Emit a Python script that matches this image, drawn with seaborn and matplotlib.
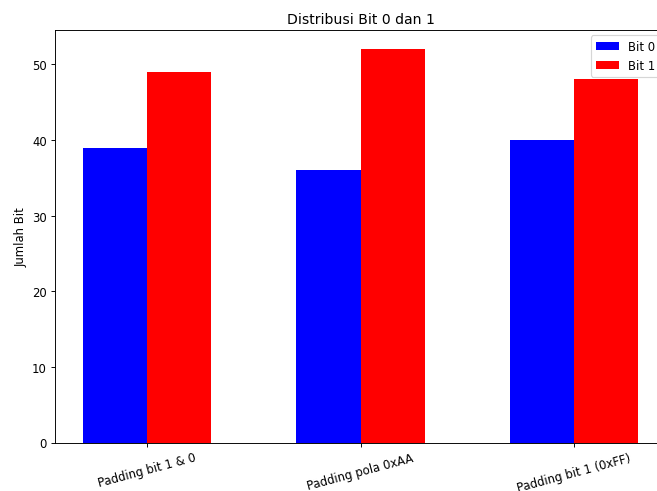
import pandas as pd
import numpy as np
import matplotlib
matplotlib.use('Agg')
import matplotlib.pyplot as plt
import seaborn as sns

# data
methods = ['Padding bit 1 & 0', 'Padding pola 0xAA', 'Padding bit 1 (0xFF)']
bit0 = [39, 36, 40]
bit1 = [49, 52, 48]

df = pd.DataFrame({
    'method': methods * 2,
    'bit': ['Bit 0'] * len(methods) + ['Bit 1'] * len(methods),
    'jumlah': bit0 + bit1,
})

# smaller dpi so text comes out the size of the reference
dpi = 84
fig = plt.figure(figsize=(657 / dpi, 492 / dpi), dpi=dpi)
# axes runs a little past the right edge like in the reference
ax = fig.add_axes([55 / 657, 48.5 / 492, 611 / 657, 413 / 492])

sns.barplot(data=df, x='method', y='jumlah', hue='bit', order=methods,
            hue_order=['Bit 0', 'Bit 1'], palette={'Bit 0': 'blue', 'Bit 1': 'red'},
            width=0.6, saturation=1, errorbar=None, ax=ax)

ax.set_xlim(-0.43, 2.43)
ax.set_ylim(0, 54.6)
ax.set_xlabel('')
ax.set_ylabel('Jumlah Bit')
ax.set_title('Distribusi Bit 0 dan 1')
ax.tick_params(axis='x', rotation=15)
ax.legend(loc='upper right')

fig.savefig('out.png', dpi=dpi)
